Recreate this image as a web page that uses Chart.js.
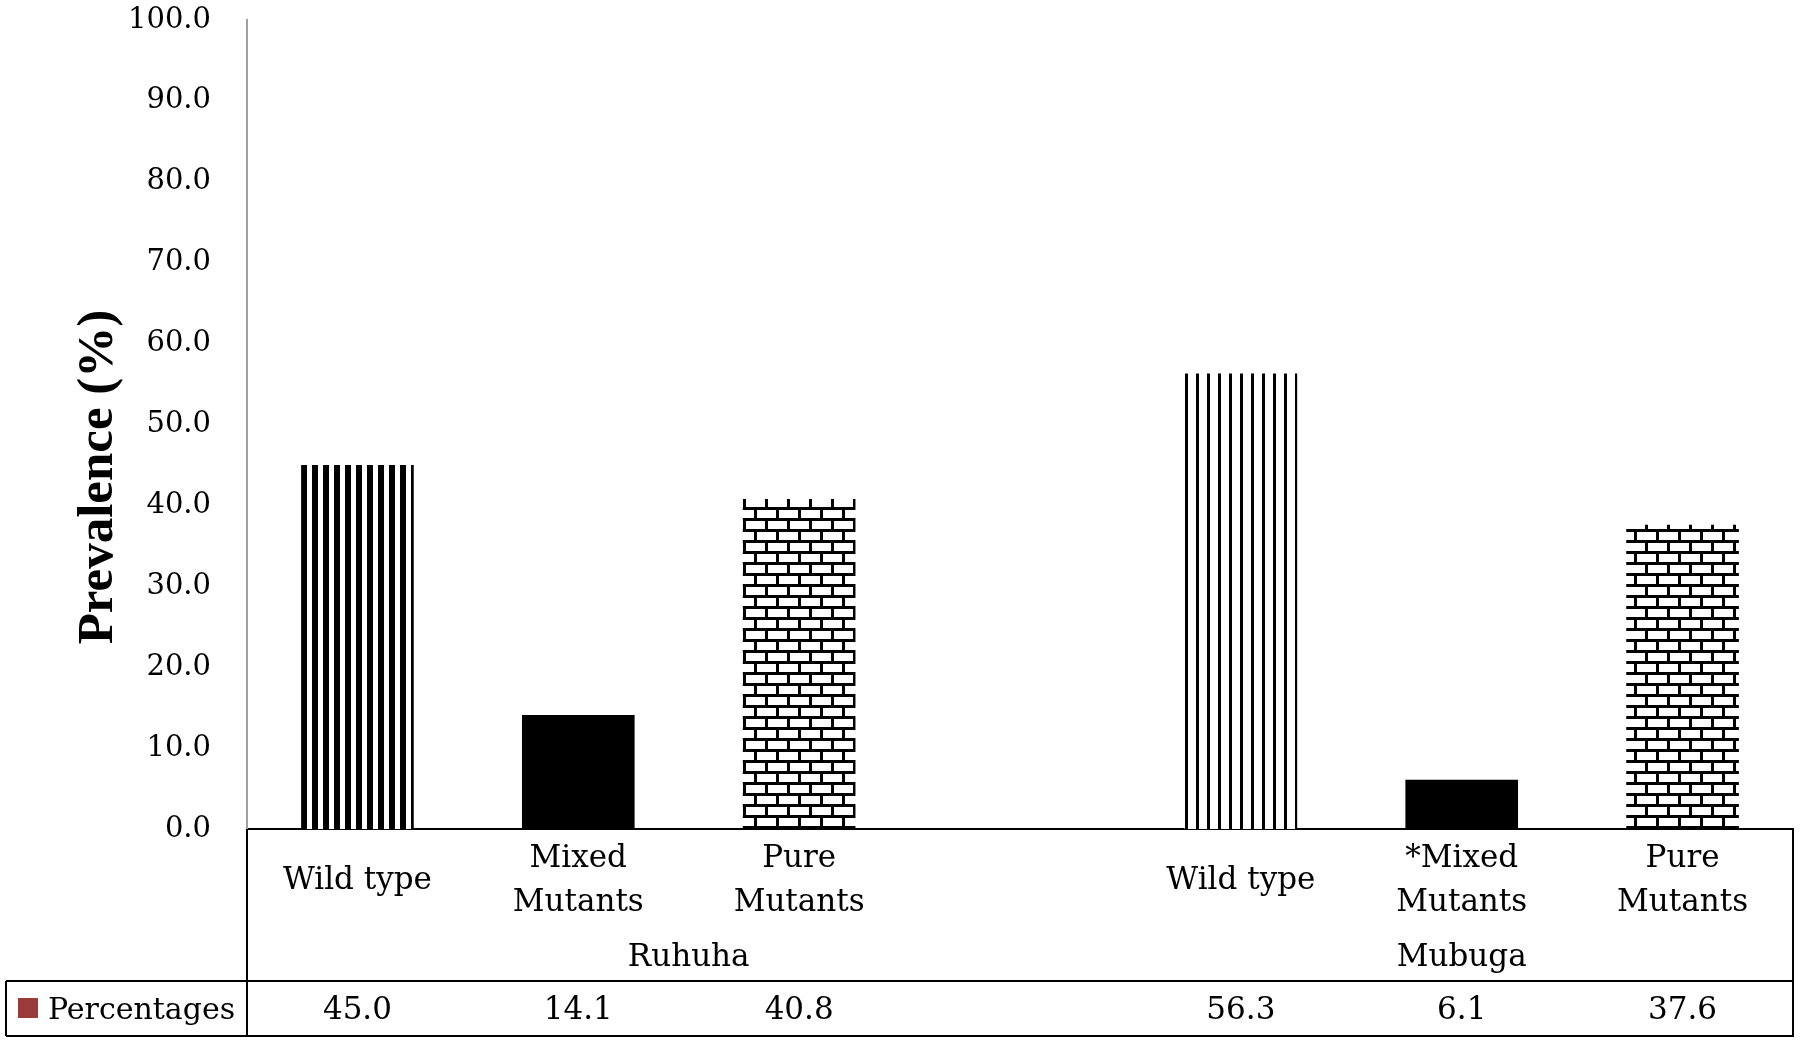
<!DOCTYPE html>
<html>
<head>
<meta charset="utf-8">
<script src="https://cdn.jsdelivr.net/npm/chart.js@4.4.0/dist/chart.umd.min.js"></script>
<style>
  html, body { margin: 0; padding: 0; background: #fff; }
  canvas { display: block; }
</style>
</head>
<body>
<canvas id="myChart" width="1800" height="1042"></canvas>
<script>
// data
const categories = [['Wild type'], ['Mixed', 'Mutants'], ['Pure', 'Mutants'], [], ['Wild type'], ['*Mixed', 'Mutants'], ['Pure', 'Mutants']];
const percentages = [45.0, 14.1, 40.8, null, 56.3, 6.1, 37.6];
const groups = ['Ruhuha', 'Mubuga'];
const groupFirst = [0, 4];
const groupLast = [3, 6];
const seriesName = 'Percentages';
const yTitle = 'Prevalence (%)';

const ctx = document.getElementById('myChart').getContext('2d');

// fill patterns (Excel style hatches)
function tile(w, h, draw) {
  const c = document.createElement('canvas');
  c.width = w;
  c.height = h;
  const g = c.getContext('2d');
  g.fillStyle = '#fff';
  g.fillRect(0, 0, w, h);
  g.fillStyle = '#000';
  draw(g);
  return c;
}

function pattern(canvas, dx, dy) {
  const p = ctx.createPattern(canvas, 'repeat');
  p.setTransform(new DOMMatrix([1, 0, 0, 1, dx, dy]));
  return p;
}

const thickStripes = pattern(tile(11, 11, g => g.fillRect(0, 0, 6, 11)), 4, 0);
const thinStripes = pattern(tile(11, 11, g => g.fillRect(0, 0, 3, 11)), 8, 0);
const bricks = pattern(tile(22, 22, g => {
  g.fillRect(0, 0, 22, 3);
  g.fillRect(0, 0, 3, 11);
  g.fillRect(0, 11, 22, 3);
  g.fillRect(11, 11, 3, 11);
}), 6, 1);

const barFills = [thickStripes, '#000', bricks, '#000', thinStripes, '#000', bricks];

const serif = '"DejaVu Serif", serif';

const tablePlugin = {
  id: 'dataTable',
  afterDraw(chart) {
    const {ctx, chartArea} = chart;
    const x = chart.scales.x;
    const slot = x.getPixelForValue(1) - x.getPixelForValue(0);
    const top = chartArea.bottom;
    const mid = x.bottom;
    const end = mid + 55;

    ctx.save();
    // table lines
    ctx.strokeStyle = '#000';
    ctx.lineWidth = 2;
    ctx.beginPath();
    ctx.moveTo(chartArea.left, top);
    ctx.lineTo(chartArea.left, end);
    ctx.moveTo(chartArea.right, top - 1);
    ctx.lineTo(chartArea.right, end);
    ctx.moveTo(6, mid);
    ctx.lineTo(chartArea.right, mid);
    ctx.moveTo(6, end);
    ctx.lineTo(chartArea.right + 1, end);
    ctx.moveTo(6, mid);
    ctx.lineTo(6, end);
    ctx.stroke();

    ctx.fillStyle = '#000';
    ctx.font = '31px ' + serif;
    ctx.textAlign = 'center';
    ctx.textBaseline = 'alphabetic';

    // category labels
    categories.forEach((lines, i) => {
      const cx = x.getPixelForValue(i);
      if (lines.length === 1) {
        ctx.fillText(lines[0], cx, top + 60);
      } else if (lines.length === 2) {
        ctx.fillText(lines[0], cx, top + 38);
        ctx.fillText(lines[1], cx, top + 82);
      }
    });

    // group labels
    groups.forEach((name, i) => {
      const a = x.getPixelForValue(groupFirst[i]) - slot / 2;
      const b = x.getPixelForValue(groupLast[i]) + slot / 2;
      ctx.fillText(name, (a + b) / 2, top + 137);
    });

    // data row
    percentages.forEach((v, i) => {
      if (v === null) return;
      ctx.fillText(v.toFixed(1), x.getPixelForValue(i), mid + 38);
    });

    // legend key
    ctx.fillStyle = '#993b3b';
    ctx.fillRect(18, mid + 17, 20, 20);
    ctx.fillStyle = '#000';
    ctx.textAlign = 'left';
    ctx.font = '30px ' + serif;
    ctx.fillText(seriesName, 48, mid + 38);

    // y title
    ctx.translate(112, 477);
    ctx.rotate(-Math.PI / 2);
    ctx.font = 'bold 51px "Liberation Serif", serif';
    ctx.textAlign = 'center';
    ctx.fillText(yTitle, 0, 0);
    ctx.restore();
  }
};

new Chart(ctx, {
  type: 'bar',
  data: {
    labels: categories,
    datasets: [{
      label: seriesName,
      data: percentages,
      backgroundColor: barFills,
      borderWidth: 0,
      barPercentage: 0.51,
      categoryPercentage: 1
    }]
  },
  options: {
    responsive: false,
    animation: false,
    devicePixelRatio: 1,
    layout: { padding: { left: 0, right: 7, top: 20, bottom: 61 } },
    plugins: {
      legend: { display: false },
      tooltip: { enabled: false }
    },
    scales: {
      x: {
        grid: { display: false, drawTicks: false },
        border: { display: true, color: '#000', width: 2 },
        ticks: { display: false },
        afterFit(s) {
          s.height = 152;
          s.paddingLeft = 0;
          s.paddingRight = 0;
        }
      },
      y: {
        min: 0,
        max: 100,
        ticks: {
          stepSize: 10,
          callback: v => v.toFixed(1),
          font: { family: serif, size: 29 },
          color: '#000',
          padding: 36
        },
        grid: { display: false, drawTicks: false },
        border: { display: true, color: '#a0a0a0', width: 2 },
        afterFit(s) {
          s.width = 247;
          s.paddingTop = 0;
          s.paddingBottom = 0;
        }
      }
    }
  },
  plugins: [tablePlugin]
});
</script>
</body>
</html>
